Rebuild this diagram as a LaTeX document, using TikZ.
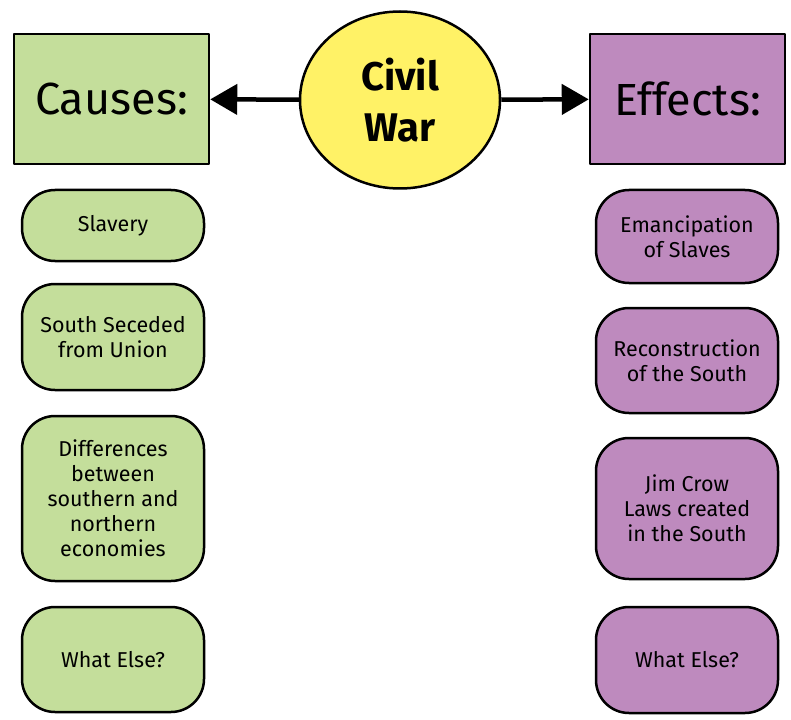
\documentclass[tikz,border=0pt]{standalone}
\usepackage{fontspec}
\setmainfont{Fira Sans}
\usetikzlibrary{shapes.geometric,arrows.meta}
\definecolor{causegreen}{HTML}{C4DE9B}
\definecolor{effectpurple}{HTML}{BE8ABE}
\definecolor{waryellow}{HTML}{FFF266}
\begin{document}
\begin{tikzpicture}[x=1pt,y=-1pt,line join=round,
		head/.style={draw,line width=2.5pt,minimum width=195pt,minimum height=130pt,font=\fontsize{45}{54}\selectfont},
		item/.style={draw,line width=2.5pt,rounded corners=33pt,minimum width=182pt,align=center,inner sep=2pt,font=\fontsize{21.5}{25}\selectfont},
		link/.style={line width=4.5pt,-{Triangle[length=27pt,width=30pt]}}]
	\useasboundingbox (0,0) rectangle (791,719);
	% centre
	\node[ellipse,draw,line width=2.5pt,fill=waryellow,minimum width=200pt,minimum height=177pt,align=center,font=\bfseries\fontsize{40}{51}\selectfont] (war) at (400,100) {Civil\\War};
	\node[head,fill=causegreen] (causes) at (111.5,99) {Causes:};
	\node[head,fill=effectpurple] (effects) at (687.5,99) {Effects:};
	\draw[link] (war) -- (causes);
	\draw[link] (war) -- (effects);
	% causes column
	\node[item,fill=causegreen,minimum height=71pt] (slavery) at (113,225.5) {Slavery};
	\node[item,fill=causegreen,minimum height=106pt] (secede) at (113,337) {South Seceded\\from Union};
	\node[item,fill=causegreen,minimum height=165pt] (econ) at (113,498.5) {Differences\\between\\southern and\\northern\\economies};
	\node[item,fill=causegreen,minimum height=105pt] (causemore) at (113,659.5) {What Else?};
	% effects column
	\node[item,fill=effectpurple,minimum height=93pt] (emancip) at (687,236.5) {Emancipation\\of Slaves};
	\node[item,fill=effectpurple,minimum height=105pt] (recon) at (687,360.5) {Reconstruction\\of the South};
	\node[item,fill=effectpurple,minimum height=141pt] (jimcrow) at (687,508.5) {Jim Crow\\Laws created\\in the South};
	\node[item,fill=effectpurple,minimum height=106pt] (effectmore) at (687,660) {What Else?};
\end{tikzpicture}
\end{document}
